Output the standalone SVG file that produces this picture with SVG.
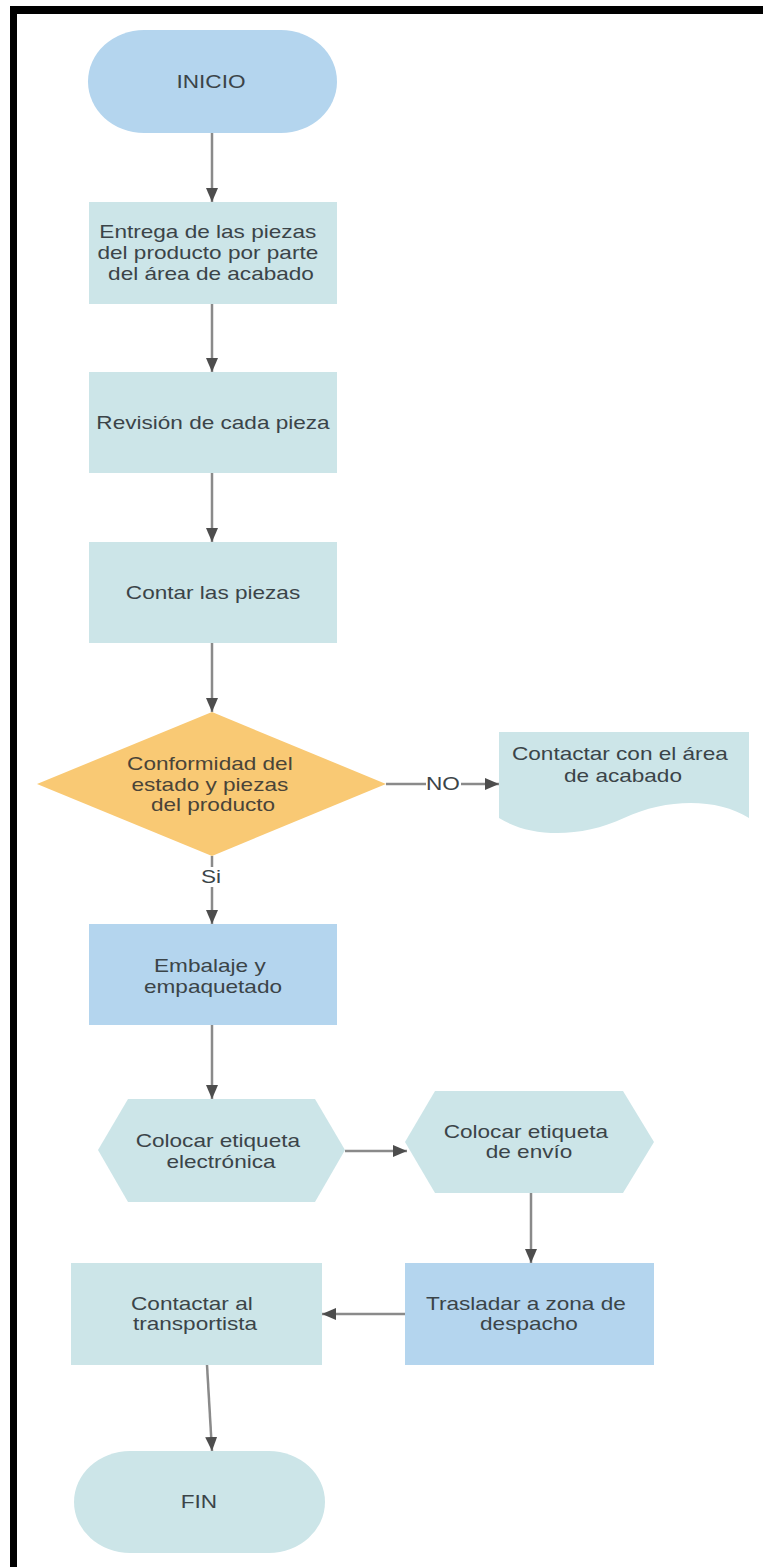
<svg xmlns="http://www.w3.org/2000/svg" width="763" height="1567" viewBox="0 0 763 1567">
  <style>
    .blue { fill: #b4d5ee; }
    .teal { fill: #cce5e8; }
    .dec { fill: #f9c974; }
    .t { font-family: "Liberation Sans", Arial, sans-serif; font-size: 17.5px; fill: #3b4448; text-anchor: middle; }
    .dt { fill: #4a4438; }
    .conn { stroke: #8a8a8a; stroke-width: 2.5; fill: none; marker-end: url(#arrow); }
    .lblbg { fill: #ffffff; }
  </style>
  <defs>
    <marker id="arrow" markerUnits="userSpaceOnUse" viewBox="0 0 14 12" markerWidth="14" markerHeight="12" refX="14" refY="6" orient="auto">
      <path d="M0,0 L14,6 L0,12 Z" fill="#4d4d4d"/>
    </marker>
  </defs>
  <rect x="0" y="0" width="763" height="1567" fill="#ffffff"/>
  <rect x="10" y="6" width="753" height="8" fill="#000000"/>
  <rect x="10" y="6" width="7" height="1561" fill="#000000"/>

  <g id="connectors">
    <line class="conn" x1="212" y1="133" x2="212" y2="202"/>
    <line class="conn" x1="212" y1="304" x2="212" y2="372"/>
    <line class="conn" x1="212" y1="473" x2="212" y2="542"/>
    <line class="conn" x1="212" y1="643" x2="212" y2="712"/>
    <line class="conn" x1="212" y1="856" x2="212" y2="924"/>
    <line class="conn" x1="386" y1="784" x2="499" y2="784"/>
    <line class="conn" x1="212" y1="1025" x2="212" y2="1099"/>
    <line class="conn" x1="345" y1="1151" x2="407" y2="1151"/>
    <line class="conn" x1="531" y1="1193" x2="531" y2="1263"/>
    <line class="conn" x1="405" y1="1314" x2="322" y2="1314"/>
    <line class="conn" x1="207" y1="1365" x2="212" y2="1451"/>
    <g id="label-si">
      <rect class="lblbg" x="202" y="867" width="19" height="20"/>
      <text class="t" transform="translate(211,0) scale(1.29,1)" x="0" y="883">Si</text>
    </g>
    <g id="label-no">
      <rect class="lblbg" x="426" y="774" width="35" height="20"/>
      <text class="t" transform="translate(443,0) scale(1.29,1)" x="0" y="790">NO</text>
    </g>
  </g>

  <g id="inicio">
    <rect class="blue" x="88" y="30" width="249" height="103" rx="56" ry="51.5"/>
    <text class="t" transform="translate(211,0) scale(1.29,1)" x="0" y="88">INICIO</text>
  </g>

  <g id="entrega">
    <rect class="teal" x="89" y="202" width="248" height="102"/>
    <text class="t" transform="translate(211,0) scale(1.29,1)" y="238">
      <tspan x="0" y="238">Entrega de las piezas</tspan>
      <tspan x="0" y="259">del producto por parte</tspan>
      <tspan x="0" y="280">del área de acabado</tspan>
    </text>
  </g>

  <g id="revision">
    <rect class="teal" x="89" y="372" width="248" height="101"/>
    <text class="t" transform="translate(213,0) scale(1.29,1)" x="0" y="429">Revisión de cada pieza</text>
  </g>

  <g id="contar">
    <rect class="teal" x="89" y="542" width="248" height="101"/>
    <text class="t" transform="translate(213,0) scale(1.29,1)" x="0" y="599">Contar las piezas</text>
  </g>

  <g id="conformidad">
    <polygon class="dec" points="212,712 386,784 212,856 37,784"/>
    <text class="t dt" transform="translate(213,0) scale(1.29,1)" y="770">
      <tspan x="0" y="770">Conformidad del</tspan>
      <tspan x="0" y="791">estado y piezas</tspan>
      <tspan x="0" y="811">del producto</tspan>
    </text>
  </g>

  <g id="contactar-acabado">
    <path class="teal" d="M499,732 H749 V818 C717,798 667,798 624,818 C581,838 531,838 499,818 Z"/>
    <text class="t" transform="translate(623,0) scale(1.29,1)" y="760">
      <tspan x="0" y="760">Contactar con el área</tspan>
      <tspan x="0" y="782">de acabado</tspan>
    </text>
  </g>

  <g id="embalaje">
    <rect class="blue" x="89" y="924" width="248" height="101"/>
    <text class="t" transform="translate(213,0) scale(1.29,1)" y="972">
      <tspan x="0" y="972">Embalaje y</tspan>
      <tspan x="0" y="993">empaquetado</tspan>
    </text>
  </g>

  <g id="etiqueta-electronica">
    <polygon class="teal" points="98,1150 128,1099 315,1099 345,1150 315,1202 128,1202"/>
    <text class="t" transform="translate(221,0) scale(1.29,1)" y="1147">
      <tspan x="0" y="1147">Colocar etiqueta</tspan>
      <tspan x="0" y="1168">electrónica</tspan>
    </text>
  </g>

  <g id="etiqueta-envio">
    <polygon class="teal" points="405,1142 435,1091 623,1091 654,1142 623,1193 435,1193"/>
    <text class="t" transform="translate(529,0) scale(1.29,1)" y="1138">
      <tspan x="0" y="1138">Colocar etiqueta</tspan>
      <tspan x="0" y="1158">de envío</tspan>
    </text>
  </g>

  <g id="trasladar">
    <rect class="blue" x="405" y="1263" width="249" height="102"/>
    <text class="t" transform="translate(529,0) scale(1.29,1)" y="1310">
      <tspan x="0" y="1310">Trasladar a zona de</tspan>
      <tspan x="0" y="1330">despacho</tspan>
    </text>
  </g>

  <g id="transportista">
    <rect class="teal" x="71" y="1263" width="251" height="102"/>
    <text class="t" transform="translate(195,0) scale(1.29,1)" y="1310">
      <tspan x="0" y="1310">Contactar al</tspan>
      <tspan x="0" y="1330">transportista</tspan>
    </text>
  </g>

  <g id="fin">
    <rect class="teal" x="74" y="1451" width="251" height="102" rx="56" ry="51"/>
    <text class="t" transform="translate(199,0) scale(1.29,1)" x="0" y="1508">FIN</text>
  </g>
</svg>
